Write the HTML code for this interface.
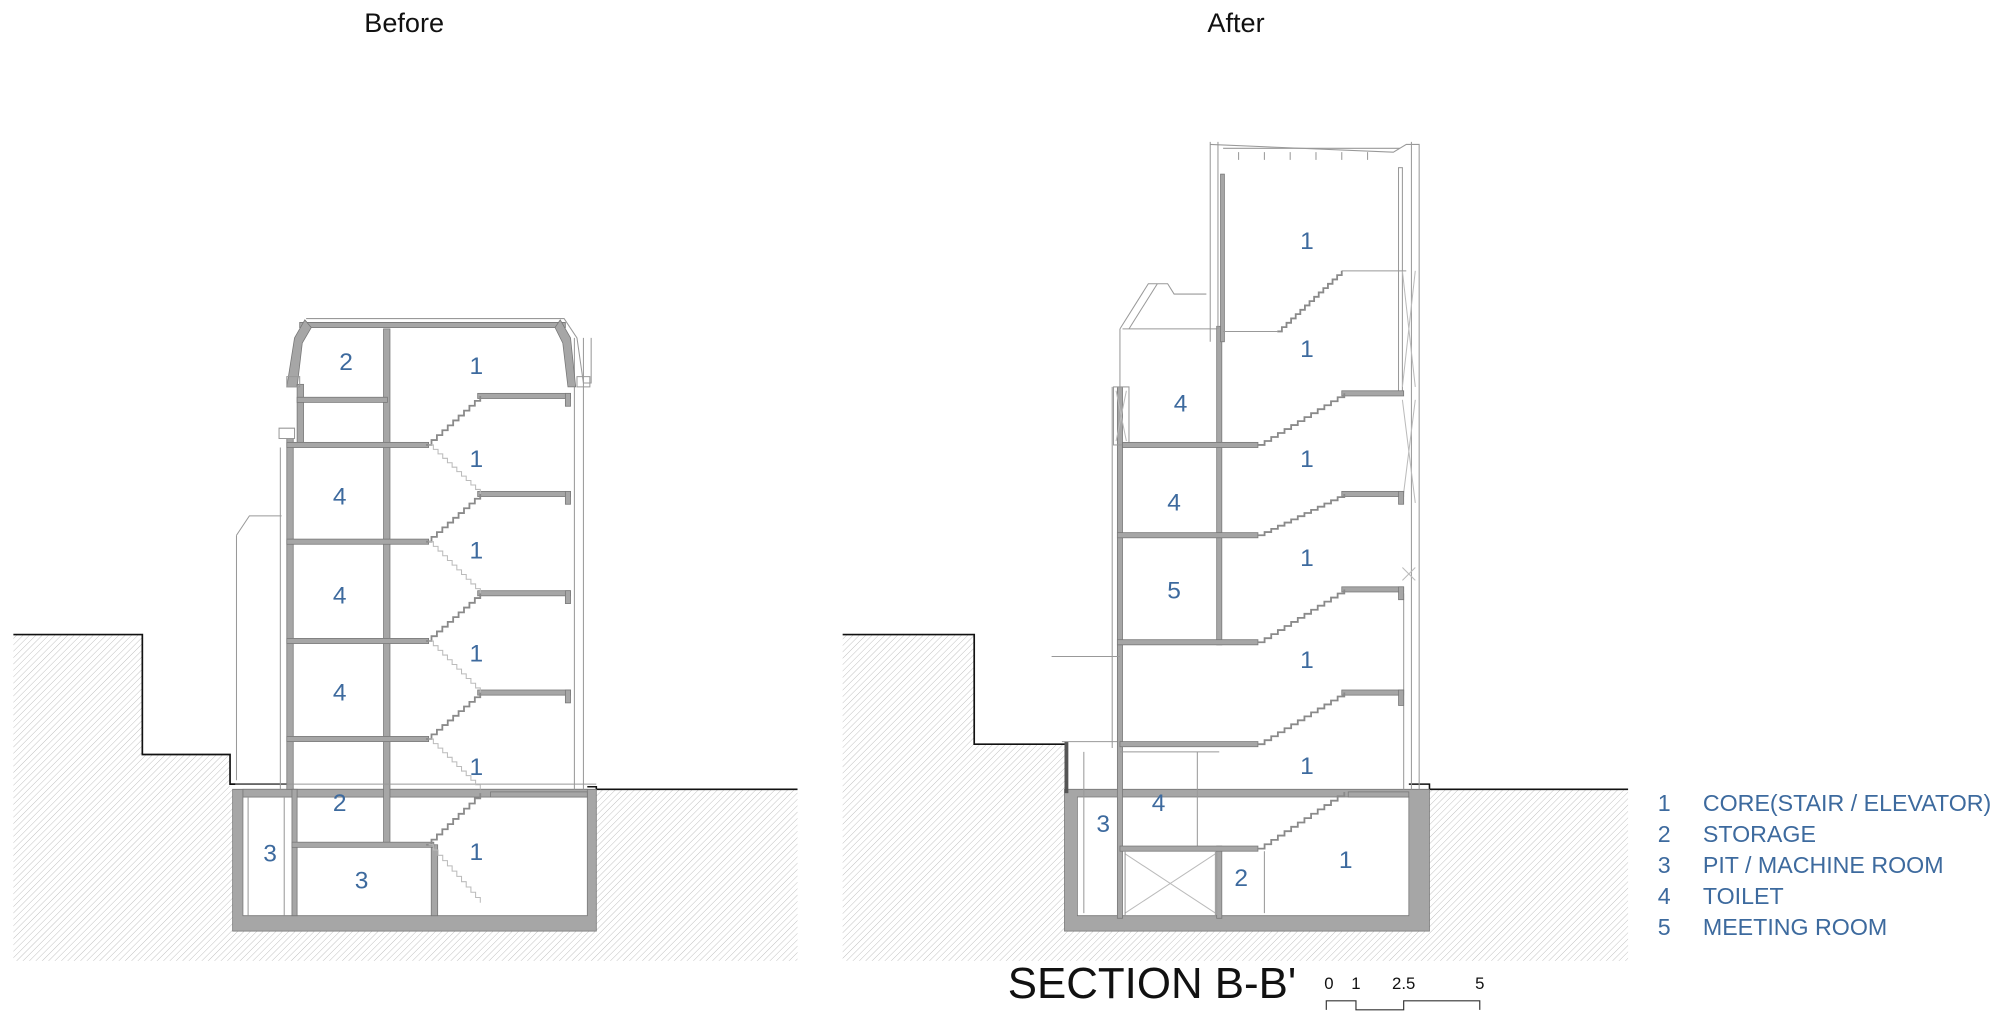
<!DOCTYPE html>
<html><head><meta charset="utf-8"><style>
html,body{margin:0;padding:0;background:#fff;}
svg{display:block;}
text{font-family:"Liberation Sans",sans-serif;}
.lb{fill:#3d6a9e;font-size:19px;text-anchor:middle;}
.lg{fill:#3d6a9e;font-size:18px;}
.s{fill:#a6a6a6;stroke:#777;stroke-width:0.6;}
.t{fill:none;stroke:#999;stroke-width:0.8;}
.st{fill:none;stroke:#8a8a8a;stroke-width:1.4;}
.lt{fill:none;stroke:#bbb;stroke-width:0.8;}
</style></head><body>
<svg width="2000" height="1015" viewBox="0 0 1550 787" xmlns="http://www.w3.org/2000/svg">
<defs>
<pattern id="h" width="3.5" height="3.5" patternUnits="userSpaceOnUse" patternTransform="rotate(45)">
<line x1="0" y1="0" x2="0" y2="3.5" stroke="#bdbdbd" stroke-width="0.7"/>
</pattern>
</defs>
<rect width="1550" height="787" fill="#fff"/>
<text x="313" y="25" font-size="21" text-anchor="middle" fill="#111">Before</text>
<text x="958" y="25" font-size="21" text-anchor="middle" fill="#111">After</text>

<path d="M10,492 H110 V585 H178 V612 H618 V745 H10 Z" fill="url(#h)"/>
<path d="M10,492 H110 V585 H178 V608 H225" fill="none" stroke="#111" stroke-width="1.3"/>
<path d="M455,610 H462 V612 H618" fill="none" stroke="#111" stroke-width="1.2"/>
<rect x="180" y="612" width="282" height="110" fill="#fff"/>
<path d="M180,612 H462 V722 H180 Z M188,618 V710 H455 V618 Z" class="s" fill-rule="evenodd"/>
<rect x="188" y="612" width="267" height="6" class="s"/>
<line x1="192" y1="618" x2="192" y2="710" class="t"/>
<line x1="220" y1="618" x2="220" y2="710" class="t"/>
<rect x="222" y="340" width="5" height="272" class="s"/>
<line x1="217" y1="347" x2="217" y2="612" class="t"/>
<rect x="226" y="612" width="4" height="98" class="s"/>
<rect x="297" y="255" width="5" height="400" class="s"/>
<rect x="334" y="655" width="5" height="55" class="s"/>
<line x1="445" y1="262" x2="445" y2="612" class="t"/>
<line x1="452" y1="262" x2="452" y2="612" class="t"/>
<path d="M182,608 H462" class="t"/>
<path d="M237,247 H437 L447,262 L452,297 H458 V262" class="t"/>
<path d="M232,250 H438 V254 H232 Z" class="s"/>
<path d="M236,248 L228,262 L222,300 L230,300 L234,266 L241,254 Z" class="s"/>
<path d="M434,248 L442,262 L446,300 L440,300 L436,266 L430,254 Z" class="s"/>
<rect x="230" y="298" width="5" height="48" class="s"/>
<rect x="230" y="308" width="70" height="4" class="s"/>
<path d="M222,292 H232 V300 H222 Z M447,292 H457 V300 H447 Z M216,332 H228 V340 H216 Z" class="t"/>
<path d="M183,415 L193,400 H218" class="t"/><line x1="183" y1="415" x2="183" y2="605" class="t"/>
<rect x="222" y="343" width="110" height="4" class="s"/>
<rect x="222" y="418" width="110" height="4" class="s"/>
<rect x="222" y="495" width="110" height="4" class="s"/>
<rect x="222" y="571" width="110" height="4" class="s"/>
<rect x="226" y="653" width="110" height="4" class="s"/>
<rect x="370" y="305" width="72" height="4" class="s"/><rect x="438" y="305" width="4" height="10" class="s"/>
<rect x="370" y="381" width="72" height="4" class="s"/><rect x="438" y="381" width="4" height="10" class="s"/>
<rect x="370" y="458" width="72" height="4" class="s"/><rect x="438" y="458" width="4" height="10" class="s"/>
<rect x="370" y="535" width="72" height="4" class="s"/><rect x="438" y="535" width="4" height="10" class="s"/>
<rect x="380" y="614" width="75" height="4" class="s"/>
<g id="stairsB"></g>
<text class="lb" x="268" y="287">2</text><text class="lb" x="369" y="290">1</text>
<text class="lb" x="369" y="362">1</text><text class="lb" x="263" y="391">4</text>
<text class="lb" x="369" y="433">1</text><text class="lb" x="263" y="468">4</text>
<text class="lb" x="369" y="513">1</text><text class="lb" x="263" y="543">4</text>
<text class="lb" x="369" y="601">1</text><text class="lb" x="263" y="629">2</text>
<text class="lb" x="209" y="668">3</text><text class="lb" x="280" y="689">3</text>
<text class="lb" x="369" y="667">1</text>

<path d="M653,492 H755 V577 H825 V612 H1262 V745 H653 Z" fill="url(#h)"/>
<path d="M653,492 H755 V577 H825" fill="none" stroke="#111" stroke-width="1.3"/>
<path d="M1092,608 H1108 V612 H1262" fill="none" stroke="#111" stroke-width="1.2"/>
<rect x="826" y="612" width="282" height="110" fill="#fff"/>
<path d="M825,612 H1108 V722 H825 Z M835,618 V710 H1092 V618 Z" class="s" fill-rule="evenodd"/>
<rect x="825" y="575" width="3" height="40" fill="#555"/>
<path d="M823,575 H868" class="t"/>
<rect x="866" y="300" width="4" height="412" class="s"/>
<line x1="862" y1="300" x2="862" y2="580" class="t"/>
<rect x="863" y="300" width="12" height="45" class="t"/>
<path d="M865,303 L873,342 M873,303 L865,342" class="lt"/>
<rect x="943" y="253" width="4" height="247" class="s"/>
<rect x="943" y="656" width="4" height="56" class="s"/>
<line x1="938" y1="110" x2="938" y2="265" class="t"/><line x1="944" y1="110" x2="944" y2="255" class="t"/>
<rect x="946" y="135" width="3" height="130" class="s"/>
<path d="M938,112 L1080,118 L1090,112 H1100 V612" class="t"/>
<path d="M948,115 H1085 M960,118 v6 M980,118 v6 M1000,118 v6 M1020,118 v6 M1040,118 v6 M1060,118 v6" class="t"/>
<line x1="1094" y1="110" x2="1094" y2="612" class="t"/>
<rect x="1084" y="130" width="3" height="175" class="t"/>
<path d="M1087,210 L1097,300 M1097,210 L1087,300 M1087,310 L1097,390 M1097,310 L1087,390 M1087,440 L1097,450 M1097,440 L1087,450" class="lt"/>
<line x1="1088" y1="460" x2="1088" y2="612" class="t"/>
<path d="M868,255 L890,220 H905 L910,228 H935" class="t"/>
<path d="M875,255 L897,220" class="t"/>
<line x1="868" y1="255" x2="868" y2="300" class="t"/>
<line x1="870" y1="255" x2="943" y2="255" class="t"/>
<path d="M815,509 H868" class="t" stroke-width="1.2"/>
<line x1="868" y1="583" x2="945" y2="583" class="t"/>
<line x1="928" y1="583" x2="928" y2="656" class="t"/>
<line x1="840" y1="583" x2="840" y2="708" class="t"/>
<line x1="980" y1="660" x2="980" y2="708" class="t"/>
<rect x="870" y="343" width="105" height="4" class="s"/>
<rect x="866" y="413" width="109" height="4" class="s"/>
<rect x="866" y="496" width="109" height="4" class="s"/>
<rect x="868" y="575" width="107" height="4" class="s"/>
<rect x="868" y="656" width="107" height="4" class="s"/>
<rect x="1040" y="303" width="48" height="4" class="s"/>
<rect x="1040" y="381" width="48" height="4" class="s"/><rect x="1084" y="381" width="4" height="10" class="s"/>
<rect x="1040" y="455" width="48" height="4" class="s"/><rect x="1084" y="455" width="4" height="10" class="s"/>
<rect x="1040" y="535" width="48" height="4" class="s"/><rect x="1084" y="535" width="4" height="12" class="s"/>
<rect x="1045" y="614" width="47" height="4" class="s"/>
<path d="M948,257 H990 M1040,210 H1090" class="t"/>
<path d="M872,662 L942,708 M942,662 L872,708" class="lt"/>
<rect x="872" y="660" width="70" height="50" class="t"/>
<g id="stairsA"></g>
<text class="lb" x="1013" y="193">1</text><text class="lb" x="1013" y="277">1</text>
<text class="lb" x="915" y="319">4</text><text class="lb" x="1013" y="362">1</text>
<text class="lb" x="910" y="396">4</text><text class="lb" x="1013" y="439">1</text>
<text class="lb" x="910" y="464">5</text><text class="lb" x="1013" y="518">1</text>
<text class="lb" x="1013" y="600">1</text><text class="lb" x="898" y="629">4</text>
<text class="lb" x="855" y="645">3</text><text class="lb" x="962" y="687">2</text>
<text class="lb" x="1043" y="673">1</text>

<g class="lg">
<text x="1285" y="629">1</text><text x="1320" y="629">CORE(STAIR / ELEVATOR)</text>
<text x="1285" y="653">2</text><text x="1320" y="653">STORAGE</text>
<text x="1285" y="677">3</text><text x="1320" y="677">PIT / MACHINE ROOM</text>
<text x="1285" y="701">4</text><text x="1320" y="701">TOILET</text>
<text x="1285" y="725">5</text><text x="1320" y="725">MEETING ROOM</text>
</g>
<text x="781" y="774" font-size="34" fill="#111">SECTION B-B'</text>
<g font-size="13" fill="#111" text-anchor="middle">
<text x="1030" y="767">0</text><text x="1051" y="767">1</text><text x="1088" y="767">2.5</text><text x="1147" y="767">5</text>
</g>
<path d="M1028,783 V776 H1051 V783 H1088 V776 H1147 V783" fill="none" stroke="#333" stroke-width="0.9"/>
</svg>
<script>
function stairs(id,x0,y0,x1,y1,n,cls){var g=document.getElementById(id);var dx=(x1-x0)/n,dy=(y1-y0)/n,d="M"+x0+","+y0;for(var i=0;i<n;i++){d+=" h"+dx.toFixed(2)+" v"+dy.toFixed(2);}var p=document.createElementNS("http://www.w3.org/2000/svg","path");p.setAttribute("d",d);p.setAttribute("class",cls);g.appendChild(p);}
[[345,307],[420,383],[497,460],[573,537],[655,615]].forEach(function(a){stairs("stairsB",330,a[0],372,a[1],10,"st");});
[[345,383],[420,460],[497,537],[573,612],[655,700]].forEach(function(a){stairs("stairsB",332,a[0],372,a[1],11,"lt");});
[[345,305],[415,383],[498,457],[577,537],[658,614]].forEach(function(a){stairs("stairsA",975,a[0],1042,a[1],13,"st");});
stairs("stairsA",990,257,1040,210,14,"st");
</script>
</body></html>
